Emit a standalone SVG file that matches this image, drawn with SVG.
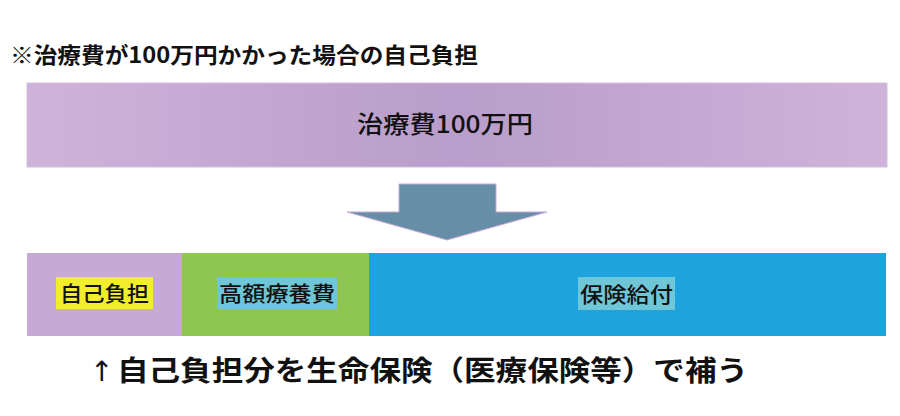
<svg xmlns="http://www.w3.org/2000/svg" width="900" height="416" viewBox="0 0 900 416">
<style>
text{font-family:"Noto Sans CJK JP","Noto Sans",sans-serif;fill:#111}
.title{font-size:22px;font-weight:bold}
.lbl{font-size:21px;font-weight:500}
.note{font-size:28px;font-weight:bold}
</style>
<defs>
<linearGradient id="topg" x1="0" y1="0" x2="1" y2="0">
<stop offset="0" stop-color="#cfb3da"/>
<stop offset="0.5" stop-color="#b99dca"/>
<stop offset="1" stop-color="#cfb3da"/>
</linearGradient>
</defs>
<rect width="900" height="416" fill="#fff"/>
<text class="title" x="10" y="63" textLength="468" lengthAdjust="spacingAndGlyphs">※治療費が100万円かかった場合の自己負担</text>
<g id="total">
<rect x="27" y="83" width="860" height="84" fill="url(#topg)" stroke="#d2bde0" stroke-width="1"/>
<text x="357" y="133" style="font-size:24px;font-weight:500" textLength="176" lengthAdjust="spacingAndGlyphs">治療費100万円</text>
</g>
<g id="connectors">
<polygon points="399,184 496,184 496,212 547,212 447,240 347,212 399,212" fill="#668fa7" stroke="#c8a9d6" stroke-width="1"/>
</g>
<g id="self">
<rect x="27" y="253" width="155" height="83" fill="#c6a9d4"/>
<rect x="56" y="277" width="97" height="32" fill="#f2ee2c"/>
<text class="lbl" x="60" y="301" textLength="89" lengthAdjust="spacingAndGlyphs">自己負担</text>
</g>
<g id="high">
<rect x="182" y="253" width="187" height="83" fill="#8fc553"/>
<rect x="217" y="277" width="120" height="32" fill="#6fc6d6"/>
<text class="lbl" x="219" y="301" textLength="116" lengthAdjust="spacingAndGlyphs">高額療養費</text>
</g>
<g id="insurance">
<rect x="369" y="253" width="517" height="83" fill="#1fa3dc"/>
<rect x="578" y="277" width="97" height="33" fill="#6fc6d6"/>
<text class="lbl" x="580" y="302" textLength="93" lengthAdjust="spacingAndGlyphs">保険給付</text>
</g>
<text x="90" y="381" style="font-size:28px;font-weight:normal;font-family:'DejaVu Sans',sans-serif" fill="#222">↑</text>
<text class="note" x="117" y="381" textLength="631" lengthAdjust="spacingAndGlyphs">自己負担分を生命保険（医療保険等）で補う</text>
</svg>
